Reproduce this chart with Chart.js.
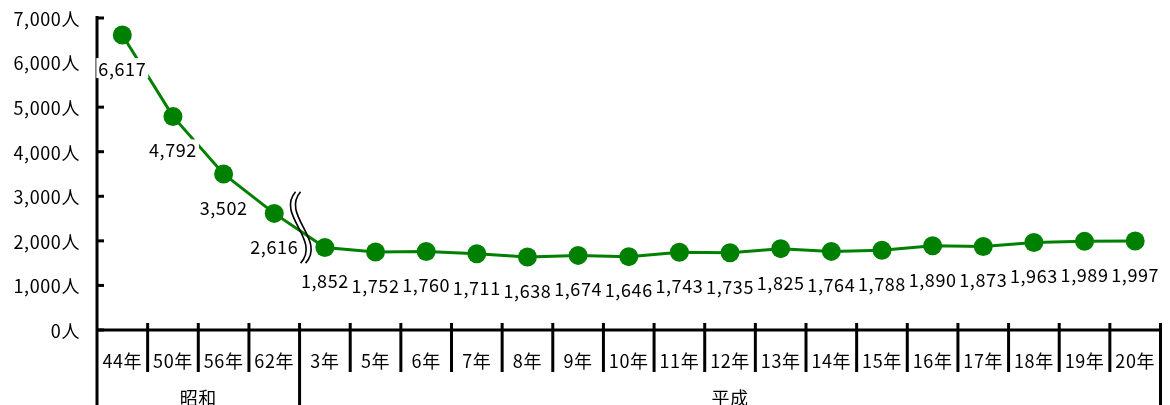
<!DOCTYPE html>
<html><head><meta charset="utf-8">
<script src="https://cdn.jsdelivr.net/npm/chart.js@4/dist/chart.umd.min.js"></script>
<style>html,body{margin:0;padding:0;background:#fff}canvas{display:block}</style>
</head><body>
<div style="width:1170px;height:405px"><canvas id="c" width="1170" height="405"></canvas></div>
<script>
const categories = ['44年','50年','56年','62年','3年','5年','6年','7年','8年','9年','10年','11年','12年','13年','14年','15年','16年','17年','18年','19年','20年'];
const persons = [6617,4792,3502,2616,1852,1752,1760,1711,1638,1674,1646,1743,1735,1825,1764,1788,1890,1873,1963,1989,1997];
const yTicks = [0,1000,2000,3000,4000,5000,6000,7000];
const eraNames = ['昭和','平成'];
const eraStarts = [0,4];
const breakAfterIndex = 3;
const breakRange = [3100,1500];

const FONT = "18px 'Noto Sans CJK JP',sans-serif";
const GREEN = '#008000';
const fmt = v => v.toLocaleString('en-US');

const deco = {
  id: 'deco',
  afterDatasetsDraw(chart) {
    const {ctx, chartArea: a, scales: {x, y}} = chart;
    const H = chart.height;
    const band = x.getPixelForValue(1) - x.getPixelForValue(0);
    const edge = i => x.getPixelForValue(i) - band / 2;
    const line = (x1, y1, x2, y2) => { ctx.beginPath(); ctx.moveTo(x1, y1); ctx.lineTo(x2, y2); ctx.stroke(); };
    ctx.save();
    ctx.strokeStyle = '#000'; ctx.lineWidth = 3; ctx.lineCap = 'butt';
    // y axis
    line(edge(0), a.top - 2, edge(0), H);
    yTicks.forEach(v => { const py = y.getPixelForValue(v); line(edge(0), py, edge(0) + 7, py); });
    // x axis
    line(edge(0), a.bottom, edge(categories.length) + 1, a.bottom);
    for (let i = 1; i <= categories.length; i++) {
      const px = edge(i);
      const long = eraStarts.includes(i) || i === categories.length;
      line(px, a.bottom - 7, px, long ? H : a.bottom + 42);
    }
    // text
    ctx.font = FONT; ctx.fillStyle = '#000'; ctx.textBaseline = 'middle';
    ctx.letterSpacing = '0.6px';
    ctx.textAlign = 'right';
    yTicks.forEach(v => ctx.fillText(fmt(v) + '人', edge(0) - 17, y.getPixelForValue(v) + 1));
    ctx.textAlign = 'center';
    categories.forEach((c, i) => ctx.fillText(c, x.getPixelForValue(i), a.bottom + 31));
    eraNames.forEach((n, k) => {
      const from = eraStarts[k];
      const to = k + 1 < eraStarts.length ? eraStarts[k + 1] : categories.length;
      ctx.fillText(n, (edge(from) + edge(to)) / 2, a.bottom + 68);
    });
    // data labels
    persons.forEach((v, i) => {
      const px = x.getPixelForValue(i), py = y.getPixelForValue(v) + 33;
      const t = fmt(v);
      const w = ctx.measureText(t).width;
      ctx.fillStyle = '#fff';
      ctx.fillRect(px - w / 2 - 2, py - 10, w + 4, 20);
      ctx.fillStyle = '#000';
      ctx.fillText(t, px, py + 1);
    });
    // break mark
    const bx = edge(breakAfterIndex + 1);
    const t0 = y.getPixelForValue(breakRange[0]), t1 = y.getPixelForValue(breakRange[1]);
    const h = t1 - t0;
    ctx.lineWidth = 1.6;
    [-4, 1].forEach(off => {
      const x0 = bx + off;
      ctx.beginPath();
      ctx.moveTo(x0, t0);
      ctx.bezierCurveTo(x0 - 20, t0 + h * 0.32, x0 + 26, t0 + h * 0.68, x0 + 5, t1);
      ctx.stroke();
    });
    ctx.restore();
  }
};

new Chart(document.getElementById('c'), {
  type: 'line',
  data: {
    labels: categories,
    datasets: [{
      data: persons,
      borderColor: GREEN,
      backgroundColor: GREEN,
      borderWidth: 3,
      pointRadius: 9.5,
      pointHoverRadius: 9.5,
      pointBackgroundColor: GREEN,
      pointBorderWidth: 0,
      tension: 0
    }]
  },
  options: {
    responsive: false,
    animation: false,
    devicePixelRatio: 1,
    layout: { padding: { left: 97, right: 3, top: 18, bottom: 75 } },
    plugins: { legend: { display: false }, tooltip: { enabled: false } },
    scales: {
      x: { type: 'category', offset: true, display: false },
      y: { min: 0, max: 7000, display: false }
    }
  },
  plugins: [deco]
});
</script>
</body></html>
